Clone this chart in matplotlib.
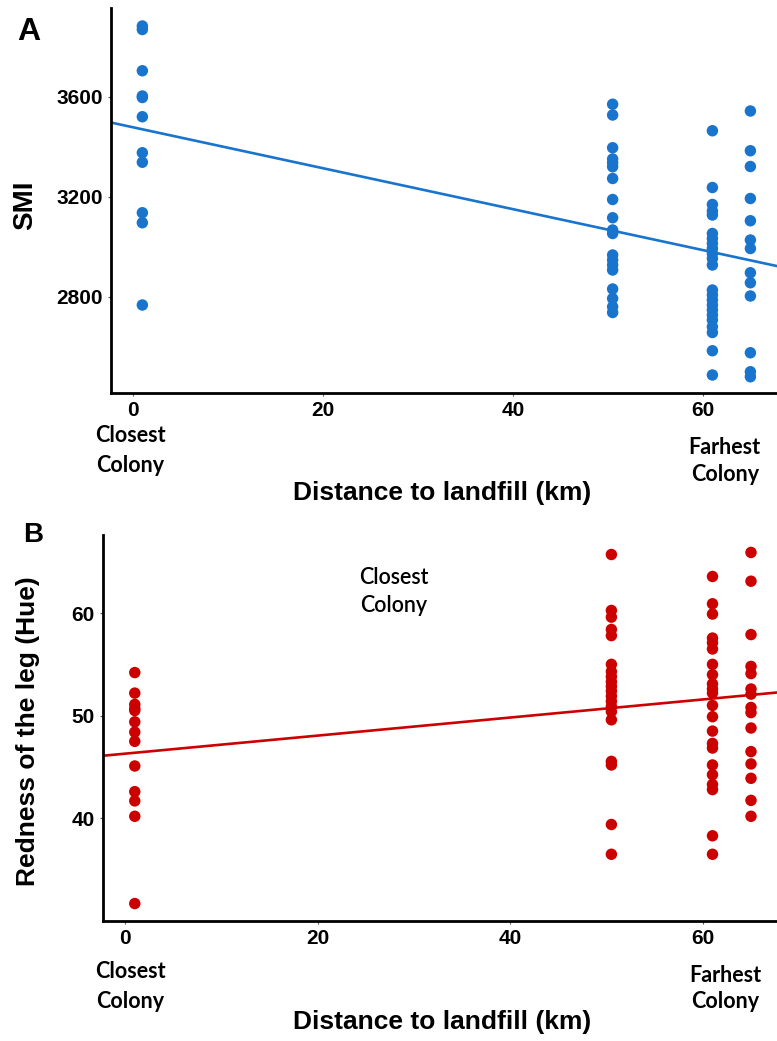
import matplotlib
matplotlib.use("Agg")
import matplotlib.pyplot as plt
import matplotlib.transforms as mtransforms
import numpy as np

# colony distances to the landfill (km)
colony_km = [1.0, 50.5, 61.0, 65.0]

# SMI per bird, grouped by colony
smi = [
    [3883, 3869, 3704, 3603, 3597, 3520, 3376, 3338, 3136, 3096, 2767],
    [3570, 3527, 3396, 3351, 3336, 3320, 3273, 3189, 3116, 3067, 3053,
     2967, 2947, 2927, 2907, 2831, 2793, 2760, 2737],
    [3464, 3237, 3169, 3143, 3127, 3053, 3033, 3013, 2993, 2973, 2953,
     2927, 2827, 2807, 2787, 2767, 2747, 2727, 2707, 2680, 2657, 2584, 2487],
    [3543, 3384, 3321, 3193, 3104, 3027, 2993, 2896, 2856, 2803, 2576,
     2500, 2480],
]

# leg hue per bird, grouped by colony
hue = [
    [54.2, 52.2, 51.1, 50.7, 50.5, 49.4, 48.4, 47.5, 45.1, 42.6, 41.7,
     40.2, 31.7],
    [65.7, 60.25, 59.6, 58.4, 57.8, 55.0, 54.3, 53.8, 53.3, 52.85, 52.4,
     51.9, 51.4, 50.9, 50.4, 49.6, 45.55, 45.2, 39.4, 36.5],
    [63.56, 60.9, 59.9, 57.56, 57.1, 56.5, 55.0, 54.0, 53.1, 52.6, 52.2,
     51.0, 49.9, 48.5, 47.3, 46.85, 45.2, 44.25, 43.3, 42.8, 38.3, 36.5],
    [65.9, 63.1, 57.9, 54.8, 54.1, 52.6, 52.1, 50.8, 50.3, 48.8, 46.5,
     45.3, 43.9, 41.75, 40.2],
]

# fitted trend lines (intercept, slope per km)
smi_fit = (3478, -8.19)
hue_fit = (46.3, 0.088)

x_ticks = [0, 20, 40, 60]
smi_ticks = [2800, 3200, 3600]
hue_ticks = [40, 50, 60]

W, H = 777, 1041
fig = plt.figure(figsize=(W / 100, H / 100), dpi=100)

SANS = ["Liberation Sans", "DejaVu Sans"]
HUMAN = ["Lato", "Open Sans", "DejaVu Sans"]


def box(left, top, right, bottom):
    return [left / W, 1 - bottom / H, (right - left) / W, (bottom - top) / H]


def fy(y):
    return 1 - y / H


def panel(rect, groups, fit, color, xlim, ylim, yticks):
    ax = fig.add_axes(rect)
    xs = np.concatenate([[x] * len(g) for x, g in zip(colony_km, groups)])
    ys = np.concatenate(groups)
    ax.scatter(xs, ys, s=68, color=color, edgecolors="none", zorder=3,
               clip_on=False)
    icpt, slope = fit
    lx = np.array(xlim)
    ax.plot(lx, icpt + slope * lx, color=color, lw=1.9, zorder=2)
    ax.set_xlim(xlim)
    ax.set_ylim(ylim)
    ax.set_xticks(x_ticks)
    ax.set_yticks(yticks)
    for s in ["top", "right"]:
        ax.spines[s].set_visible(False)
    for s in ["left", "bottom"]:
        ax.spines[s].set_linewidth(2.0)
    ax.tick_params(length=2.5, width=0.8, color="#555555", pad=3.5,
                   labelsize=15)
    for lab in ax.get_xticklabels() + ax.get_yticklabels():
        lab.set_fontfamily(SANS)
        lab.set_fontweight("bold")
    return ax


def colony_labels(ax, x_close, x_far, y_close, y_far):
    tr = mtransforms.blended_transform_factory(ax.transData, fig.transFigure)
    for x, ys, words in [(x_close, y_close, ("Closest", "Colony")),
                         (x_far, y_far, ("Farhest", "Colony"))]:
        for y, w in zip(ys, words):
            ax.text(x, fy(y), w, transform=tr, ha="center", va="center",
                    fontsize=15.5, fontweight="bold", family=HUMAN)


# panel A: body condition
axA = panel(box(111, 8, 777, 393), smi, smi_fit, "#1874CD", (-2.3, 67.8),
            (2415, 3955), smi_ticks)
colony_labels(axA, -0.3, 62.3, (436, 465), (447, 475))
fig.text(442 / W, fy(493), "Distance to landfill (km)", ha="center",
         va="center", fontsize=19, fontweight="bold", family=SANS)
fig.text(25 / W, fy(205), "SMI", rotation=90, ha="center", va="center",
         fontsize=20, fontweight="bold", family=SANS)
fig.text(29 / W, fy(32), "A", ha="center", va="center", fontsize=23,
         fontweight="bold", family=SANS)

# panel B: leg colour
axB = panel(box(103, 535, 777, 921), hue, hue_fit, "#CD0000", (-2.3, 67.7),
            (30.0, 67.6), hue_ticks)
colony_labels(axB, 0.5, 62.3, (971, 1001), (975, 1002))
trB = mtransforms.blended_transform_factory(axB.transData, fig.transFigure)
for y, w in [(577, "Closest"), (606, "Colony")]:
    axB.text(27.9, fy(y), w, transform=trB, ha="center", va="center",
             fontsize=15.5, fontweight="semibold", family=HUMAN)
fig.text(442 / W, fy(1022), "Distance to landfill (km)", ha="center",
         va="center", fontsize=19, fontweight="bold", family=SANS)
fig.text(28 / W, fy(731), "Redness of the leg (Hue)", rotation=90,
         ha="center", va="center", fontsize=19, fontweight="bold",
         family=SANS)
fig.text(33 / W, fy(535), "B", ha="center", va="center", fontsize=20,
         fontweight="bold", family=SANS)

fig.savefig("out.png", dpi=100)
